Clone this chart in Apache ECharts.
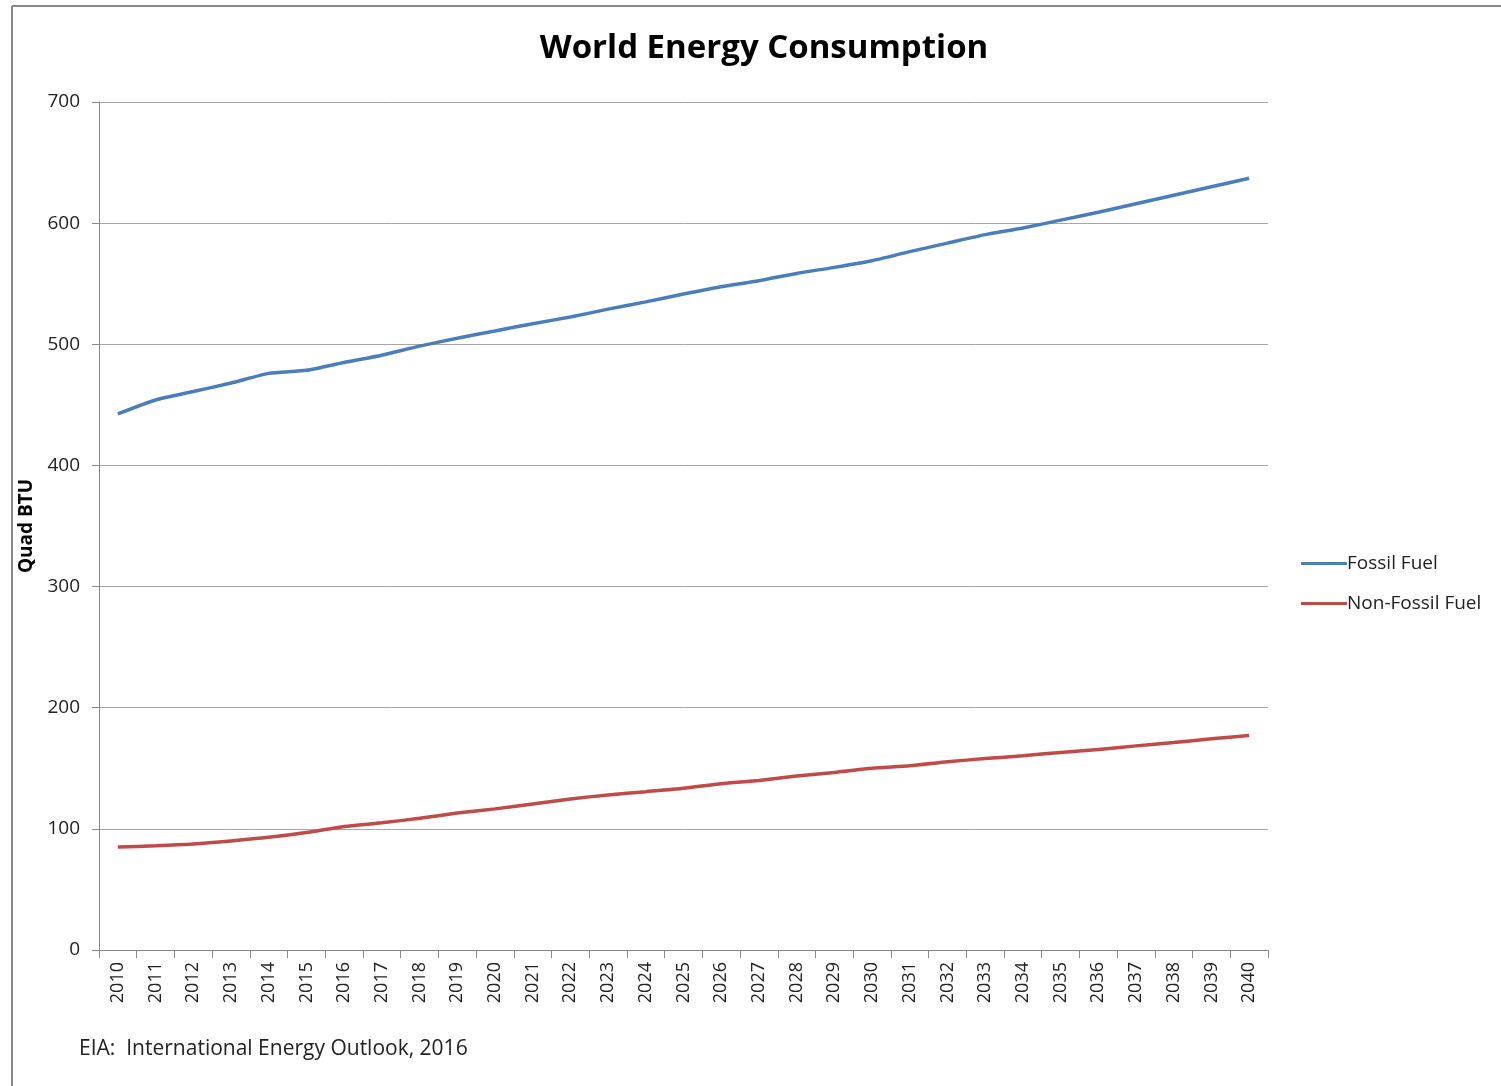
<!DOCTYPE html>
<html>
<head>
<meta charset="utf-8">
<script src="https://cdn.jsdelivr.net/npm/echarts@6/dist/echarts.min.js"></script>
<style>
html,body{margin:0;padding:0;background:#fff;}
#chart{width:1501px;height:1086px;}
</style>
</head>
<body>
<div id="chart"></div>
<script>
const years = ['2010','2011','2012','2013','2014','2015','2016','2017','2018','2019','2020','2021','2022','2023','2024','2025','2026','2027','2028','2029','2030','2031','2032','2033','2034','2035','2036','2037','2038','2039','2040'];
const fossilFuel = [442.5,454,461,468,476,478.5,485,491,498.5,505,511,517,522.5,529,535,541.5,547.5,552.5,558.5,563.5,569,576.5,583.5,590.5,596,602.5,609,616,623,630,637];
const nonFossilFuel = [85,86,87.5,90,93,97,102,105,108.7,113,116.5,120.5,124.7,128,130.7,133.5,137.3,140,143.6,146.5,150,152,155.4,158,160.4,163,165.5,168.5,171.3,174.3,177];
const yTicks = {min:0, max:700, interval:100};
const titleText = 'World Energy Consumption';
const yName = 'Quad BTU';
const sourceText = 'EIA:  International Energy Outlook, 2016';

const font = '"Open Sans", "Liberation Sans", sans-serif';
const chart = echarts.init(document.getElementById('chart'));
chart.setOption({
  backgroundColor:'#fff',
  animation:false,
  title:{
    text:titleText, left:759, top:27, textAlign:'center',
    textStyle:{fontFamily:font, fontSize:33, fontWeight:'bold', color:'#000'}
  },
  legend:{
    orient:'vertical', left:1296, top:549, itemGap:21,
    itemWidth:46, itemHeight:3, icon:'rect',
    textStyle:{fontFamily:font, fontSize:19, color:'#222', padding:[0,0,0,-5]},
    data:['Fossil Fuel','Non-Fossil Fuel']
  },
  grid:{left:99, right:233, top:102, bottom:136, containLabel:false},
  xAxis:{
    type:'category', data:years, boundaryGap:true,
    axisLine:{lineStyle:{color:'#888', width:1}},
    axisTick:{show:true, length:8, lineStyle:{color:'#888'}, alignWithLabel:false},
    axisLabel:{rotate:90, interval:0, fontFamily:font, fontSize:18, color:'#222', margin:12}
  },
  yAxis:{
    type:'value', min:yTicks.min, max:yTicks.max, interval:yTicks.interval,
    name:yName, nameLocation:'middle', nameGap:62, nameRotate:90,
    nameTextStyle:{fontFamily:font, fontSize:19, fontWeight:'bold', color:'#000'},
    axisLine:{show:true, lineStyle:{color:'#888'}},
    axisTick:{show:true, length:7, lineStyle:{color:'#888'}},
    axisLabel:{fontFamily:font, fontSize:19, color:'#222', margin:19},
    splitLine:{lineStyle:{color:'#a6a6a6', width:1}}
  },
  series:[
    {name:'Fossil Fuel', type:'line', data:fossilFuel, smooth:0.2, showSymbol:false,
     lineStyle:{color:'#4A7EBB', width:3.5}, itemStyle:{color:'#4A7EBB'}},
    {name:'Non-Fossil Fuel', type:'line', data:nonFossilFuel, smooth:0.2, showSymbol:false,
     lineStyle:{color:'#BE4B48', width:3.5}, itemStyle:{color:'#BE4B48'}}
  ],
  graphic:[
    {type:'line', shape:{x1:12, y1:6, x2:1501, y2:6}, style:{stroke:'#888', lineWidth:2}},
    {type:'line', shape:{x1:12, y1:6, x2:12, y2:1086}, style:{stroke:'#888', lineWidth:2}},
    {type:'text', left:79, top:1039, style:{text:sourceText, font:'21px ' + font, fill:'#222'}}
  ]
});
</script>
</body>
</html>
